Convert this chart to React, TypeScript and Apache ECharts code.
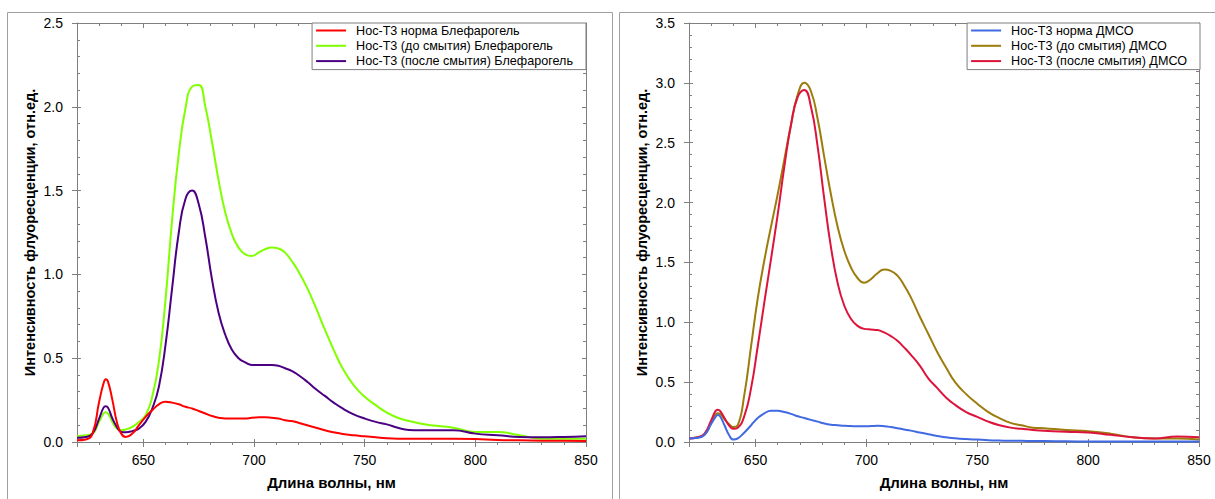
import React, { useEffect, useRef } from "react";
import * as echarts from "echarts";

const WL = [620, 624, 627, 630, 632, 633, 634, 636, 638, 640, 642, 645, 648, 651, 654, 657, 660, 663, 666, 669, 672, 675, 678, 681, 684, 687, 690, 693, 696, 699, 702, 705, 708, 711, 714, 717, 720, 724, 728, 732, 736, 740, 745, 750, 755, 760, 765, 770, 775, 780, 790, 800, 810, 820, 830, 840, 850];

// Left chart: Блефарогель
const L_NORM = [0.01, 0.015, 0.05, 0.24, 0.35, 0.375, 0.36, 0.25, 0.12, 0.05, 0.03, 0.05, 0.1, 0.15, 0.19, 0.225, 0.24, 0.235, 0.225, 0.21, 0.2, 0.185, 0.17, 0.155, 0.145, 0.14, 0.14, 0.14, 0.14, 0.145, 0.147, 0.148, 0.145, 0.14, 0.13, 0.125, 0.115, 0.1, 0.085, 0.07, 0.058, 0.048, 0.04, 0.034, 0.028, 0.022, 0.02, 0.02, 0.02, 0.02, 0.02, 0.018, 0.012, 0.01, 0.008, 0.007, 0.006];
const L_BEFORE = [0.035, 0.04, 0.05, 0.12, 0.17, 0.177, 0.17, 0.12, 0.08, 0.07, 0.075, 0.09, 0.12, 0.16, 0.27, 0.48, 0.85, 1.33, 1.72, 1.99, 2.12, 2.13, 2.0, 1.79, 1.56, 1.37, 1.24, 1.16, 1.12, 1.11, 1.13, 1.15, 1.16, 1.155, 1.13, 1.08, 1.02, 0.92, 0.8, 0.67, 0.55, 0.44, 0.34, 0.27, 0.22, 0.175, 0.145, 0.125, 0.11, 0.1, 0.085, 0.06, 0.06, 0.04, 0.02, 0.02, 0.02];
const L_AFTER = [0.025, 0.03, 0.05, 0.14, 0.205, 0.213, 0.205, 0.14, 0.09, 0.06, 0.058, 0.065, 0.08, 0.12, 0.2, 0.33, 0.58, 0.92, 1.25, 1.45, 1.5, 1.42, 1.22, 0.97, 0.77, 0.64, 0.55, 0.5, 0.475, 0.46, 0.46, 0.46, 0.46, 0.455, 0.44, 0.425, 0.4, 0.36, 0.315, 0.275, 0.235, 0.2, 0.165, 0.14, 0.12, 0.105, 0.085, 0.072, 0.07, 0.07, 0.07, 0.05, 0.04, 0.03, 0.028, 0.03, 0.034];

// Right chart: ДМСО
const R_NORM = [0.03, 0.035, 0.06, 0.15, 0.21, 0.225, 0.215, 0.14, 0.06, 0.02, 0.03, 0.08, 0.14, 0.2, 0.24, 0.26, 0.26, 0.25, 0.235, 0.215, 0.2, 0.185, 0.17, 0.155, 0.145, 0.14, 0.135, 0.133, 0.132, 0.132, 0.133, 0.135, 0.132, 0.125, 0.115, 0.105, 0.095, 0.08, 0.065, 0.05, 0.04, 0.032, 0.025, 0.02, 0.015, 0.012, 0.01, 0.01, 0.008, 0.008, 0.006, 0.005, 0.005, 0.004, 0.004, 0.004, 0.004];
const R_BEFORE = [0.03, 0.04, 0.06, 0.16, 0.23, 0.24, 0.235, 0.19, 0.15, 0.125, 0.14, 0.4, 0.8, 1.2, 1.52, 1.8, 2.07, 2.36, 2.65, 2.9, 3.0, 2.93, 2.7, 2.38, 2.07, 1.8, 1.6, 1.46, 1.37, 1.33, 1.36, 1.41, 1.44, 1.43, 1.39, 1.31, 1.21, 1.05, 0.9, 0.75, 0.62, 0.5, 0.4, 0.32, 0.25, 0.2, 0.16, 0.14, 0.12, 0.115, 0.1, 0.09, 0.07, 0.04, 0.03, 0.03, 0.02];
const R_AFTER = [0.03, 0.04, 0.07, 0.18, 0.26, 0.27, 0.26, 0.2, 0.14, 0.11, 0.12, 0.22, 0.45, 0.8, 1.17, 1.53, 1.9, 2.3, 2.65, 2.88, 2.94, 2.8, 2.47, 2.03, 1.63, 1.33, 1.14, 1.03, 0.97, 0.945, 0.94, 0.935, 0.915, 0.885, 0.845, 0.79, 0.73, 0.64, 0.53, 0.45, 0.37, 0.31, 0.25, 0.21, 0.17, 0.14, 0.12, 0.11, 0.1, 0.095, 0.085, 0.08, 0.06, 0.04, 0.03, 0.045, 0.04];

const L_NAMES = ["Нос-Т3 норма Блефарогель", "Нос-Т3 (до смытия) Блефарогель", "Нос-Т3 (после смытия) Блефарогель"];
const R_NAMES = ["Нос-Т3 норма ДМСО", "Нос-Т3 (до смытия) ДМСО", "Нос-Т3 (после смытия) ДМСО"];
const X_NAME = "Длина волны, нм";
const Y_NAME = "Интенсивность флуоресценции, отн.ед.";
const X_MIN = 620;
const X_MAX = 850;
const L_YMAX = 2.5;
const R_YMAX = 3.5;

const FONT = "'Liberation Sans', Arial, sans-serif";
const GRAY = "#7f7f7f";

function xAxesFor(g: number) {
  const base = { type: "value", gridIndex: g, min: X_MIN, max: X_MAX, splitLine: { show: false } };
  return [
    {
      ...base,
      position: "bottom",
      interval: 10,
      axisLine: { show: true, lineStyle: { color: GRAY } },
      axisTick: { show: true, length: 3, lineStyle: { color: GRAY } },
      axisLabel: {
        show: true,
        margin: 11,
        color: "#000",
        fontSize: 14,
        fontFamily: FONT,
        formatter: (v: number) => (Math.abs(v % 50) < 1e-6 ? String(Math.round(v)) : ""),
      },
      name: X_NAME,
      nameLocation: "middle",
      nameGap: 33,
      nameTextStyle: { color: "#000", fontSize: 15, fontWeight: "bold", fontFamily: FONT },
    },
    {
      ...base,
      position: "bottom",
      minInterval: 50,
      maxInterval: 50,
      axisLine: { show: false },
      axisTick: { show: true, length: 5, lineStyle: { color: GRAY } },
      axisLabel: { show: false },
    },
    {
      ...base,
      position: "bottom",
      minInterval: 50,
      maxInterval: 50,
      axisLine: { show: false },
      axisTick: { show: true, inside: true, length: 3, lineStyle: { color: GRAY } },
      axisLabel: { show: false },
    },
    {
      ...base,
      position: "top",
      interval: 10,
      axisLine: { show: true, lineStyle: { color: GRAY } },
      axisTick: { show: true, inside: true, length: 3, lineStyle: { color: GRAY } },
      axisLabel: { show: false },
    },
    {
      ...base,
      position: "top",
      minInterval: 50,
      maxInterval: 50,
      axisLine: { show: false },
      axisTick: { show: true, inside: true, length: 5, lineStyle: { color: GRAY } },
      axisLabel: { show: false },
    },
  ];
}

function yAxesFor(g: number, ymax: number) {
  const base = { type: "value", gridIndex: g, min: 0, max: ymax, interval: 0.5, splitLine: { show: false } };
  return [
    {
      ...base,
      position: "left",
      axisLine: { show: true, lineStyle: { color: GRAY } },
      axisTick: { show: true, length: 5, lineStyle: { color: GRAY } },
      axisLabel: {
        show: true,
        margin: 14,
        color: "#000",
        fontSize: 14,
        fontFamily: FONT,
        formatter: (v: number) => v.toFixed(1),
      },
      name: Y_NAME,
      nameLocation: "middle",
      nameGap: 40,
      nameRotate: 90,
      nameTextStyle: { color: "#000", fontSize: 14.5, fontWeight: "bold", fontFamily: FONT },
    },
    {
      ...base,
      position: "left",
      axisLine: { show: false },
      axisTick: { show: true, inside: true, length: 4, lineStyle: { color: GRAY } },
      minorTick: { show: true, splitNumber: 5, length: 3, lineStyle: { color: GRAY } },
      axisLabel: { show: false },
    },
    {
      ...base,
      position: "right",
      axisLine: { show: true, lineStyle: { color: GRAY } },
      axisTick: { show: true, inside: true, length: 4, lineStyle: { color: GRAY } },
      minorTick: { show: true, splitNumber: 5, length: 3, lineStyle: { color: GRAY } },
      axisLabel: { show: false },
    },
  ];
}

function mkSeries(name: string, vals: number[], color: string, g: number) {
  return {
    type: "line",
    name,
    xAxisIndex: g * 5,
    yAxisIndex: g * 3,
    data: WL.map((x, i) => [x, vals[i]]),
    showSymbol: false,
    smooth: 0.5,
    lineStyle: { width: 2, color },
    itemStyle: { color },
    z: 3,
  };
}

function legendFor(names: string[], right: number) {
  return {
    data: names,
    orient: "vertical",
    right,
    top: 23,
    padding: [1, 13, 2, 4],
    itemGap: 2.3,
    itemWidth: 30,
    itemHeight: 2,
    icon: "rect",
    borderColor: GRAY,
    borderWidth: 1,
    backgroundColor: "#fff",
    selectedMode: false,
    textStyle: { fontSize: 12.6, color: "#000", fontFamily: FONT, padding: [0, 0, 0, 5] },
  };
}

export default function App() {
  const ref = useRef<HTMLDivElement>(null);
  useEffect(() => {
    if (!ref.current) return;
    const chart = echarts.init(ref.current, null, { renderer: "svg" });
    chart.setOption({
      animation: false,
      backgroundColor: "#fff",
      textStyle: { fontFamily: FONT },
      grid: [
        { left: 77, top: 23, width: 509, height: 419, containLabel: false },
        { left: 689, top: 23, width: 510, height: 419, containLabel: false },
      ],
      xAxis: [...xAxesFor(0), ...xAxesFor(1)],
      yAxis: [...yAxesFor(0, L_YMAX), ...yAxesFor(1, R_YMAX)],
      legend: [legendFor(L_NAMES, 629), legendFor(R_NAMES, 15)],
      graphic: [
        { type: "rect", shape: { x: 7.5, y: 12.5, width: 605, height: 520 }, style: { fill: "none", stroke: "#a0a0a0", lineWidth: 1 }, silent: true },
        { type: "rect", shape: { x: 619.5, y: 12.5, width: 640, height: 520 }, style: { fill: "none", stroke: "#a0a0a0", lineWidth: 1 }, silent: true },
      ],
      series: [
        mkSeries(L_NAMES[1], L_BEFORE, "#80ff00", 0),
        mkSeries(L_NAMES[2], L_AFTER, "#4b0082", 0),
        mkSeries(L_NAMES[0], L_NORM, "#ff0000", 0),
        mkSeries(R_NAMES[1], R_BEFORE, "#9c7c0c", 1),
        mkSeries(R_NAMES[2], R_AFTER, "#dc143c", 1),
        mkSeries(R_NAMES[0], R_NORM, "#4169e1", 1),
      ],
    });
    return () => chart.dispose();
  }, []);
  return (
    <div
      ref={ref}
      style={{ position: "absolute", left: 0, top: 0, width: 1215, height: 499, background: "#fff" }}
    />
  );
}
